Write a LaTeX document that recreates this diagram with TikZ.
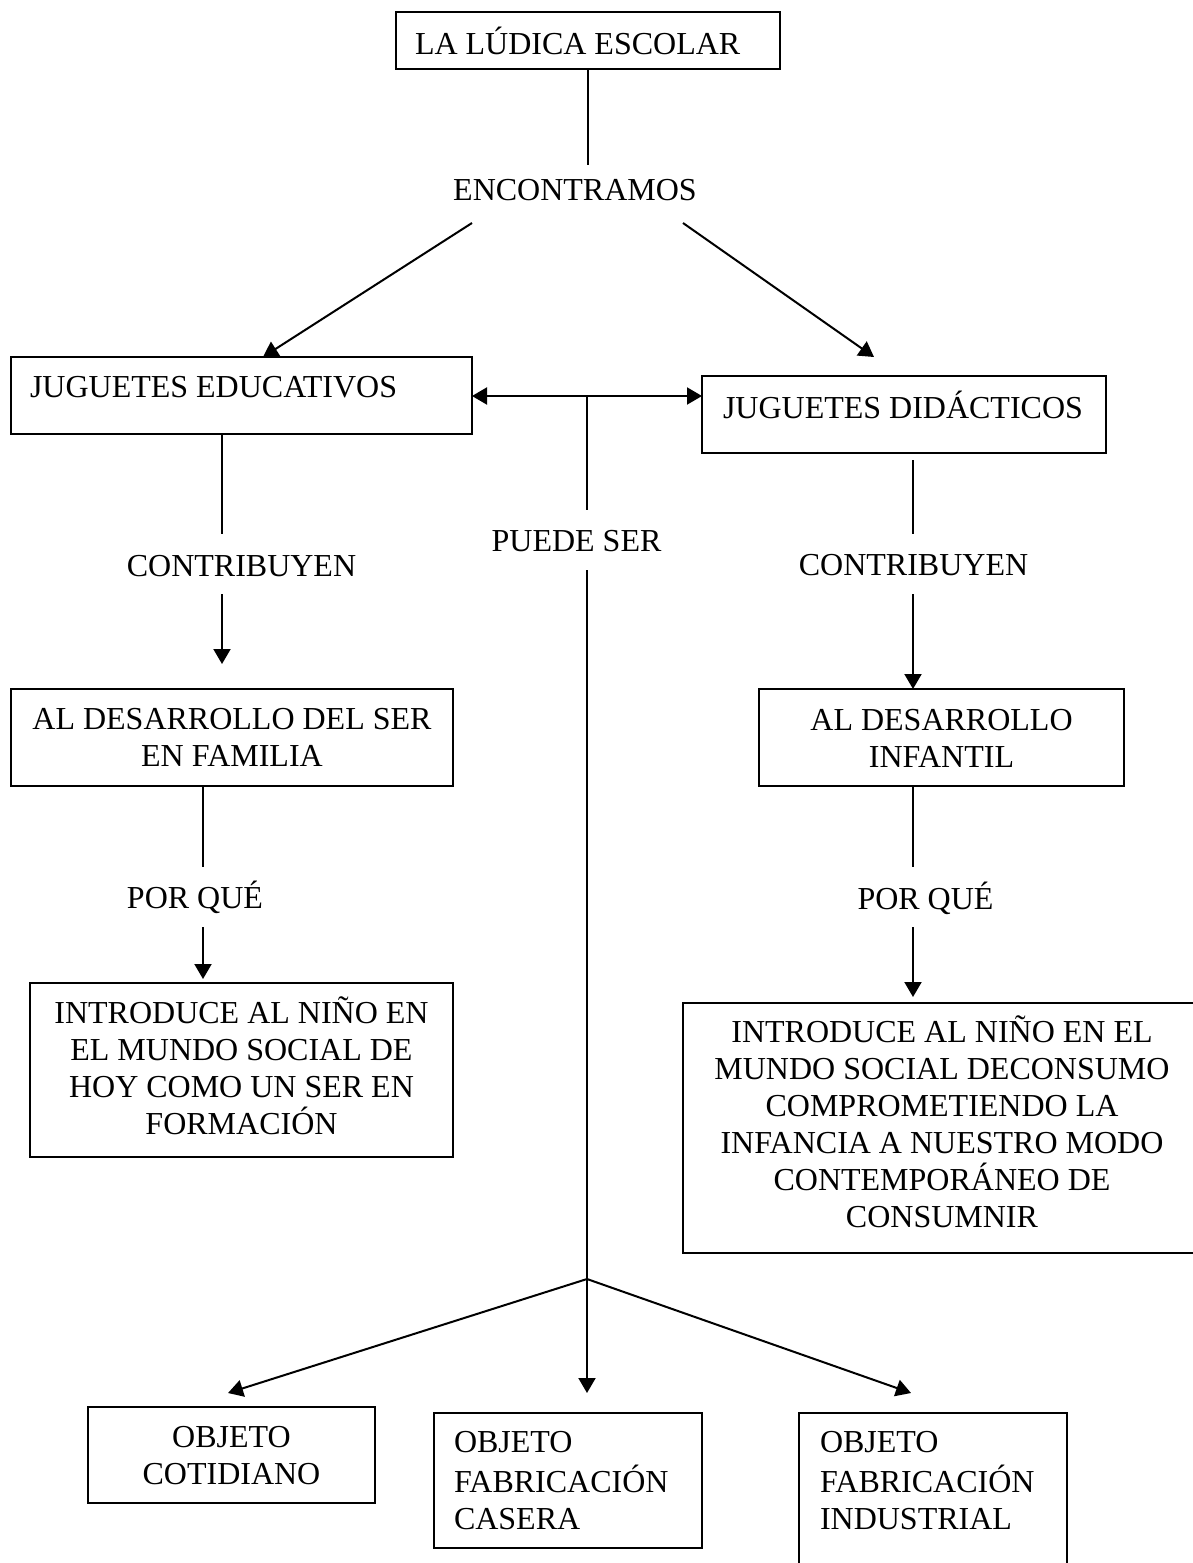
\documentclass[tikz,border=0pt]{standalone}
\usepackage{fontspec}
\setmainfont{Liberation Serif}
\usetikzlibrary{arrows.meta}
\newlength\pxu \setlength\pxu{0.5pt}
\newcommand\cbox[4]{\parbox[c][#2\pxu][t]{#1\pxu}{\centering\vspace*{\dimexpr#3\pxu-\ht\strutbox\relax}\strut#4\par}}
\newcommand\rcbox[5]{\parbox[c][#2\pxu][t]{#1\pxu}{\centering\rightskip=#4\pxu plus 1fil\relax\vspace*{\dimexpr#3\pxu-\ht\strutbox\relax}\strut#5\par}}
\newcommand\lbox[5]{\parbox[c][#2\pxu][t]{#1\pxu}{\raggedright\leftskip=#4\pxu\relax\vspace*{\dimexpr#3\pxu-\ht\strutbox\relax}\strut#5\par}}
\tikzset{
  every node/.style={font=\fontsize{16}{18.5}\selectfont},
  box/.style={draw, line width=1pt, inner sep=0pt, outer sep=0pt, rectangle},
  lbl/.style={inner sep=0pt, anchor=base},
  conn/.style={line width=1pt},
  arr/.style={line width=1pt, -{Triangle[length=7.5pt,width=8.5pt]}},
  darr/.style={line width=1pt, {Triangle[length=7.5pt,width=8.5pt]}-{Triangle[length=7.5pt,width=8.5pt]}}
}
\begin{document}
\begin{tikzpicture}[x=0.5pt,y=-0.5pt]
\useasboundingbox (0,0) rectangle (1193,1563);
\fill[white] (0,0) rectangle (1193,1563);

% boxes
\node[box] (T) at (588,40.5) {\lbox{384}{57}{41}{19}{LA LÚDICA ESCOLAR}};
\node[box] (JE) at (241.5,395.5) {\lbox{461}{77}{40}{19}{JUGUETES EDUCATIVOS}};
\node[box] (JD) at (904,414.5) {\lbox{404}{77}{41}{21}{JUGUETES DIDÁCTICOS}};
\node[box] (ADS) at (232,737.5) {\cbox{442}{97}{40}{AL DESARROLLO DEL SER\\EN FAMILIA}};
\node[box] (ADI) at (941.5,737.5) {\cbox{365}{97}{41}{AL DESARROLLO\\INFANTIL}};
\node[box] (INL) at (241.5,1070) {\cbox{423}{174}{40}{INTRODUCE AL NIÑO EN\\EL MUNDO SOCIAL DE\\HOY COMO UN SER EN\\FORMACIÓN}};
\node[box] (INR) at (948,1128) {\rcbox{530}{250}{39}{12}{INTRODUCE AL NIÑO EN EL\\MUNDO SOCIAL DECONSUMO\\COMPROMETIENDO LA\\INFANCIA A NUESTRO MODO\\CONTEMPORÁNEO DE\\CONSUMNIR}};
\node[box] (OC) at (231.5,1455) {\cbox{287}{96}{40}{OBJETO\\COTIDIANO}};
\node[box] (OFC) at (568,1480.5) {\lbox{268}{135}{39}{20}{OBJETO\\FABRICACIÓN\\CASERA}};
\node[box] (OFI) at (933,1496.5) {\lbox{268}{167}{39}{21}{OBJETO\\FABRICACIÓN\\INDUSTRIAL}};

% labels
\node[lbl] (enc) at (575,200) {ENCONTRAMOS};
\node[lbl] (pue) at (576.5,551) {PUEDE SER};
\node[lbl] (conL) at (241.5,576) {CONTRIBUYEN};
\node[lbl] (conR) at (913.5,575) {CONTRIBUYEN};
\node[lbl] (porL) at (195,908) {POR QUÉ};
\node[lbl] (porR) at (925.5,909) {POR QUÉ};

% coordinates
\coordinate (encTop) at (588,165);
\coordinate (encL) at (472,223);
\coordinate (encR) at (683,223);
\coordinate (tipJE) at (263,357);
\coordinate (tipJD) at (874,357);
\coordinate (mid) at (587,396);
\coordinate (pueTop) at (587,510);
\coordinate (pueBot) at (587,570);
\coordinate (junc) at (587,1279);
\coordinate (cL1) at (222,534);
\coordinate (cL2) at (222,594);
\coordinate (cL3) at (222,664);
\coordinate (pL1) at (203,867);
\coordinate (pL2) at (203,927);
\coordinate (pL3) at (203,979);
\coordinate (cR0) at (913,460);
\coordinate (cR1) at (913,534);
\coordinate (cR2) at (913,594);
\coordinate (pR1) at (913,867);
\coordinate (pR2) at (913,927);
\coordinate (pR3) at (913,997);
\coordinate (tOC) at (228,1393);
\coordinate (tOFC) at (587,1393);
\coordinate (tOFI) at (911,1393);

% connectors
\draw[conn] (T.south) -- (encTop);
\draw[arr] (encL) -- (tipJE);
\draw[arr] (encR) -- (tipJD);
\draw[darr] (JE.east |- mid) -- (JD.west |- mid);
\draw[conn] (mid) -- (pueTop);
\draw[conn] (pueBot) -- (junc);
\draw[arr] (junc) -- (tOC);
\draw[arr] (junc) -- (tOFC);
\draw[arr] (junc) -- (tOFI);

\draw[conn] (JE.south -| cL1) -- (cL1);
\draw[arr] (cL2) -- (cL3);
\draw[conn] (ADS.south -| pL1) -- (pL1);
\draw[arr] (pL2) -- (pL3);

\draw[conn] (cR0) -- (cR1);
\draw[arr] (cR2) -- (ADI.north -| cR2);
\draw[conn] (ADI.south -| pR1) -- (pR1);
\draw[arr] (pR2) -- (pR3);
\end{tikzpicture}
\end{document}
